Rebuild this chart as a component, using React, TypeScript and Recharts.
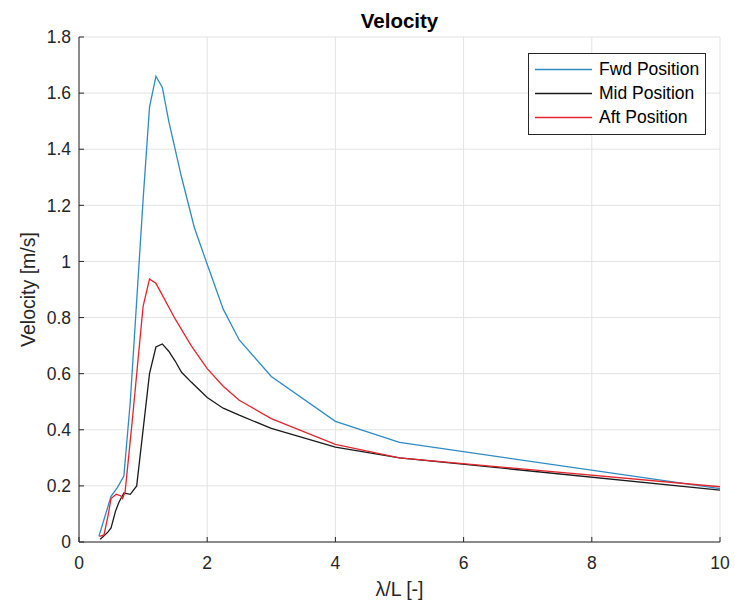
import React from 'react';
import { LineChart, Line, XAxis, YAxis, CartesianGrid, Label } from 'recharts';

// λ/L and velocity, one pair of arrays per position
const fwdX = [0.31, 0.35, 0.5, 0.6, 0.7, 0.8, 0.9, 1.0, 1.1, 1.2, 1.3, 1.4, 1.6, 1.8, 2.0, 2.25, 2.5, 3, 4, 5, 10];
const fwdY = [0.02, 0.05, 0.163, 0.195, 0.235, 0.5, 0.86, 1.22, 1.55, 1.66, 1.62, 1.5, 1.3, 1.12, 0.99, 0.83, 0.72, 0.59, 0.43, 0.355, 0.19];

const midX = [0.33, 0.37, 0.45, 0.5, 0.57, 0.62, 0.7, 0.8, 0.9, 1.1, 1.2, 1.3, 1.4, 1.5, 1.6, 1.75, 1.9, 2.0, 2.25, 2.5, 3, 4, 5, 10];
const midY = [0.01, 0.018, 0.035, 0.05, 0.11, 0.14, 0.175, 0.17, 0.2, 0.6, 0.695, 0.706, 0.68, 0.645, 0.605, 0.57, 0.537, 0.515, 0.477, 0.452, 0.405, 0.338, 0.3, 0.185];

const aftX = [0.32, 0.39, 0.45, 0.5, 0.58, 0.65, 0.68, 0.72, 0.83, 1.0, 1.1, 1.2, 1.3, 1.5, 1.75, 2.0, 2.25, 2.5, 3, 4, 5, 10];
const aftY = [0.02, 0.025, 0.09, 0.155, 0.17, 0.165, 0.155, 0.18, 0.43, 0.84, 0.937, 0.922, 0.88, 0.795, 0.7, 0.618, 0.555, 0.505, 0.44, 0.348, 0.3, 0.197];

const xTicks = [0, 2, 4, 6, 8, 10];
const yTicks = [0, 0.2, 0.4, 0.6, 0.8, 1, 1.2, 1.4, 1.6, 1.8];

const series = [
    { name: 'Fwd Position', color: '#2f8ac4', xs: fwdX, ys: fwdY },
    { name: 'Mid Position', color: '#1a1a1a', xs: midX, ys: midY },
    { name: 'Aft Position', color: '#e3262d', xs: aftX, ys: aftY },
];

const FONT = '"Liberation Sans", Arial, Helvetica, sans-serif';
const AXIS = '#262626';
const W = 735;
const H = 607;
const TICK_FS = 17.5;
const LABEL_FS = 19.5;

const toRows = (xs: number[], ys: number[]) => xs.map((x, i) => ({ x, v: ys[i] }));

const fmt = (v: number) => String(Number(v.toFixed(1)));

const XTick = (props: any) => {
    const { x, y, payload } = props;
    const axisY = y - 15;
    return (
        <g>
            <line x1={x} y1={axisY} x2={x} y2={axisY - 5} stroke={AXIS} strokeWidth={1} />
            <text x={x} y={y} dy="0.71em" textAnchor="middle" fontSize={TICK_FS} fill={AXIS} fontFamily={FONT}>
                {fmt(payload.value)}
            </text>
        </g>
    );
};

const YTick = (props: any) => {
    const { x, y, payload } = props;
    const axisX = x + 8;
    return (
        <g>
            <line x1={axisX} y1={y} x2={axisX + 5} y2={y} stroke={AXIS} strokeWidth={1} />
            <text x={x} y={y} dy="0.355em" textAnchor="end" fontSize={TICK_FS} fill={AXIS} fontFamily={FONT}>
                {fmt(payload.value)}
            </text>
        </g>
    );
};

const YLabel = (props: any) => {
    const { viewBox } = props;
    const cx = viewBox.x + 28;
    const cy = viewBox.y + viewBox.height / 2;
    return (
        <text x={cx} y={cy} transform={`rotate(-90 ${cx} ${cy})`} textAnchor="middle" dy="0.355em"
            fontSize={LABEL_FS} fill={AXIS} fontFamily={FONT}>
            Velocity [m/s]
        </text>
    );
};

const App: React.FC = () => {
    return (
        <div style={{ position: 'absolute', left: 0, top: 0, width: W, height: H, background: '#fff' }}>
            <LineChart width={W} height={H} margin={{ top: 37, right: 15, bottom: 35, left: 0 }}>
                <CartesianGrid stroke="#e3e3e3" strokeWidth={1} />
                <XAxis
                    type="number"
                    dataKey="x"
                    domain={[0, 10]}
                    ticks={xTicks}
                    height={30}
                    tickSize={0}
                    tickMargin={15}
                    tick={<XTick />}
                    axisLine={{ stroke: AXIS }}
                    allowDataOverflow
                >
                    <Label value="λ/L [-]" position="bottom" offset={10} fontSize={LABEL_FS} fill={AXIS} fontFamily={FONT} />
                </XAxis>
                <YAxis
                    type="number"
                    domain={[0, 1.8]}
                    ticks={yTicks}
                    width={79}
                    tickSize={0}
                    tickMargin={8}
                    tick={<YTick />}
                    axisLine={{ stroke: AXIS }}
                    allowDataOverflow
                >
                    <Label content={<YLabel />} />
                </YAxis>
                {series.map((s) => (
                    <Line
                        key={s.name}
                        data={toRows(s.xs, s.ys)}
                        dataKey="v"
                        name={s.name}
                        type="linear"
                        stroke={s.color}
                        strokeWidth={1.3}
                        dot={false}
                        activeDot={false}
                        isAnimationActive={false}
                    />
                ))}
            </LineChart>
            <svg width={W} height={40} style={{ position: 'absolute', left: 0, top: 0, pointerEvents: 'none' }}>
                <text x={399.5} y={28} textAnchor="middle" fontSize={20.5} fontWeight="bold" fill="#000" fontFamily={FONT}>
                    Velocity
                </text>
            </svg>
            <div
                style={{
                    position: 'absolute',
                    left: 528,
                    top: 53,
                    width: 176,
                    height: 74,
                    border: `1px solid ${AXIS}`,
                    background: '#fff',
                    fontFamily: FONT,
                    fontSize: TICK_FS,
                    color: '#000',
                    padding: '3px 0',
                    boxSizing: 'content-box',
                }}
            >
                {series.map((s) => (
                    <div key={s.name} style={{ display: 'flex', alignItems: 'center', height: 24 }}>
                        <svg width={70} height={24} style={{ flex: 'none' }}>
                            <line x1={6} y1={12.5} x2={63} y2={12.5} stroke={s.color} strokeWidth={1.3} />
                        </svg>
                        <span style={{ whiteSpace: 'nowrap' }}>{s.name}</span>
                    </div>
                ))}
            </div>
        </div>
    );
};

export default App;
